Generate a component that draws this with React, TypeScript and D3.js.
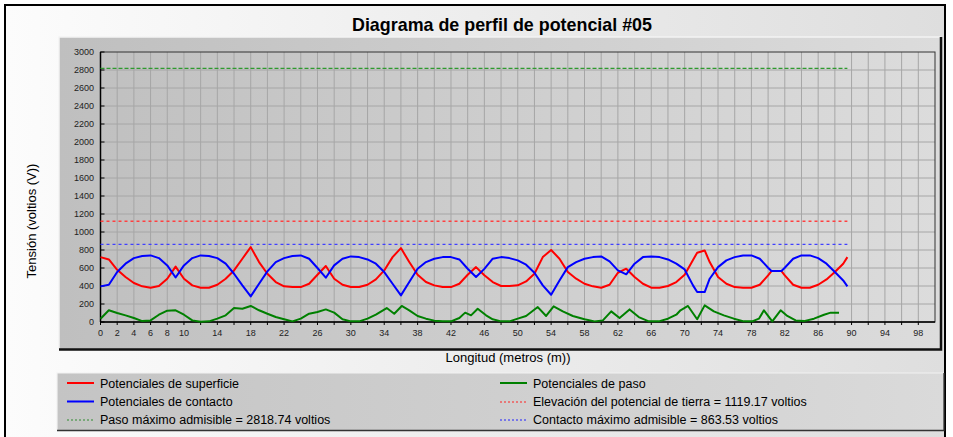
import { useEffect } from "react";
import * as d3 from "d3";

// distancia (m) para superficie / contacto
const distance = [
  0, 1, 2, 3, 4, 5, 6, 7, 8, 9, 10, 11, 12, 13, 14, 15, 16, 17, 18, 19, 20, 21, 22, 23,
  24, 25, 26, 27, 28, 29, 30, 31, 32, 33, 34, 35, 36, 37, 38, 39, 40, 41, 42, 43, 44, 45,
  46, 47, 48, 49, 50, 51, 52, 53, 54, 55, 56, 57, 58, 59, 60, 61, 62, 63, 64, 65, 66, 67, 68, 69, 70,
  71, 71.5, 72.4, 73, 74, 75, 76, 77, 78, 79, 80, 80.4, 81.6, 82, 83, 84, 85, 86, 87, 88, 89, 89.5,
];

const surface = [
  721, 695, 580, 500, 433, 396, 381, 400, 481, 615, 481, 407, 381, 381, 414, 481, 573, 703, 832, 666, 536, 444, 396, 388,
  388, 425, 525, 622, 481, 414, 388, 388, 414, 473, 573, 721, 821, 666, 525, 444, 407, 388, 388, 425, 525, 610,
  520, 444, 400, 400, 407, 451, 536, 721, 800, 703, 555, 481, 425, 396, 381, 414, 547, 592, 500, 425, 381, 381, 400, 444, 525,
  690, 770, 795, 666, 500, 425, 388, 381, 381, 414, 518, 566, 566, 518, 414, 381, 381, 414, 473, 555, 648, 721,
];

const contact = [
  396, 414, 555, 648, 710, 733, 740, 710, 629, 495, 629, 710, 740, 733, 710, 648, 536, 407, 285, 425, 562, 666, 710, 733,
  740, 703, 600, 492, 629, 703, 729, 721, 695, 648, 555, 425, 296, 444, 592, 666, 703, 721, 721, 695, 592, 500,
  590, 703, 721, 710, 685, 637, 547, 407, 303, 462, 610, 666, 703, 721, 729, 673, 573, 530, 648, 721, 729, 721, 695, 648, 584,
  407, 333, 333, 481, 610, 685, 721, 740, 740, 703, 603, 566, 566, 603, 703, 740, 740, 710, 648, 555, 462, 396,
];

// potenciales de paso
const stepDistance = [
  0, 1, 2, 3, 4, 5, 6, 7, 8, 9, 10, 11, 12, 13, 14, 15, 16, 17, 18, 19, 20, 21, 22, 23,
  24, 25, 26, 27, 28, 29, 30, 31, 32, 33, 34.3, 35.2, 36.1, 37, 38, 39, 40, 41, 42, 43, 43.7, 44.4, 45.2, 46.2,
  47, 48, 49, 50, 51, 52.4, 53.4, 54.3, 55.4, 56.6, 58, 59.2, 60.2, 61.2, 62.2, 63.4, 64.5, 65.7, 66.9, 68, 69, 69.5,
  70.4, 71.5, 72.4, 73.5, 74.7, 75.9, 77.1, 78.1, 78.9, 79.5, 80.5, 81.5, 82.3, 83.3, 84.3, 85.5, 86.7, 87.5, 88.5,
];
const step = [
  37, 130, 100, 74, 44, 10, 18, 81, 126, 130, 81, 18, 4, 7, 37, 74, 155, 148, 178, 130, 92, 55, 30, 7,
  37, 92, 111, 140, 104, 30, 7, 7, 37, 81, 155, 92, 178, 130, 67, 37, 15, 7, 7, 44, 104, 74, 148, 74,
  30, 7, 7, 37, 67, 166, 67, 174, 118, 67, 30, 7, 18, 118, 44, 140, 55, 7, 7, 37, 81, 130,
  178, 30, 185, 118, 74, 37, 7, 7, 37, 130, 7, 130, 67, 18, 10, 37, 81, 104, 104,
];

const groundRise = 1119.17;
const stepMax = 2818.74;
const contactMax = 863.53;
const limitEnd = 89.5;

const xTicks = [0, 2, 4, 6, 8, 10, 14, 18, 22, 26, 30, 34, 38, 42, 46, 50, 54, 58, 62, 66, 70, 74, 78, 82, 86, 90, 94, 98];
const yTicks = [0, 200, 400, 600, 800, 1000, 1200, 1400, 1600, 1800, 2000, 2200, 2400, 2600, 2800, 3000];

const legendItems = [
  { label: "Potenciales de superficie", color: "#ff0000", dash: null, col: 0, row: 0 },
  { label: "Potenciales de contacto", color: "#0000ff", dash: null, col: 0, row: 1 },
  { label: "Paso máximo admisible = 2818.74 voltios", color: "#2e8b2e", dash: "2,2", col: 0, row: 2 },
  { label: "Potenciales de paso", color: "#008000", dash: null, col: 1, row: 0 },
  { label: "Elevación del potencial de tierra = 1119.17 voltios", color: "#ff2020", dash: "2,2", col: 1, row: 1 },
  { label: "Contacto máximo admisible = 863.53 voltios", color: "#2020ff", dash: "2,2", col: 1, row: 2 },
];

const W = 953;
const H = 437;
const plot = { left: 100.5, right: 935, top: 52, bottom: 322 };
const font = "'Liberation Sans', Arial, sans-serif";

export default function App() {
  useEffect(() => {
    document.body.style.margin = "0";
  }, []);

  const x = d3.scaleLinear().domain([0, 100]).range([plot.left, plot.right]);
  const y = d3.scaleLinear().domain([0, 3000]).range([plot.bottom, plot.top]);

  const line = d3.line<[number, number]>().x(d => x(d[0])).y(d => y(d[1]));
  const surfPath = line(distance.map((d, i) => [d, surface[i]]) as [number, number][]);
  const contPath = line(distance.map((d, i) => [d, contact[i]]) as [number, number][]);
  const stepPath = line(stepDistance.map((d, i) => [d, step[i]]) as [number, number][]);

  const vGrid = d3.range(2, 100, 2);

  const limits = [
    { v: stepMax, color: "#2e9a2e", dash: "4,2" },
    { v: groundRise, color: "#ff4040", dash: "3,3" },
    { v: contactMax, color: "#4040ff", dash: "3,3" },
  ];

  return (
    <svg width={W} height={H} style={{ position: "fixed", left: 0, top: 0, display: "block" }} fontFamily={font}>
      <defs>
        <linearGradient id="bg" x1="0" x2="1" y1="0" y2="0">
          <stop offset="0" stopColor="#fcfcfc" />
          <stop offset="1" stopColor="#dedede" />
        </linearGradient>
        <linearGradient id="panel" x1="0" x2="1" y1="0" y2="0">
          <stop offset="0" stopColor="#bfbfbf" />
          <stop offset="1" stopColor="#dcdcdc" />
        </linearGradient>
        <linearGradient id="legend" x1="0" x2="1" y1="0" y2="0">
          <stop offset="0" stopColor="#c4c4c4" />
          <stop offset="1" stopColor="#dadada" />
        </linearGradient>
      </defs>

      <rect x={0} y={0} width={W} height={H} fill="#ffffff" />
      <rect x={5} y={5} width={940} height={440} fill="url(#bg)" stroke="#000" strokeWidth={2} />

      <text x={502} y={31} textAnchor="middle" fontSize={18.5} fontWeight="bold"
        textLength={300} lengthAdjust="spacingAndGlyphs"
        fontFamily="'Liberation Sans Narrow', 'Arial Narrow', 'Liberation Sans', sans-serif" fill="#000">
        Diagrama de perfil de potencial #05
      </text>

      {/* panel */}
      <rect x={59} y={37} width={882} height={312} fill="url(#panel)" />
      <path d="M59,349 L59,37 L941,37" fill="none" stroke="#f4f4f4" strokeWidth={1.5} />
      <path d="M59,349.5 L941,349.5 L941,37" fill="none" stroke="#111" strokeWidth={2.5} />

      {/* grid */}
      <g stroke="#a6a6a6" strokeWidth={1}>
        {vGrid.map(g => (
          <line key={"v" + g} x1={x(g)} x2={x(g)} y1={plot.top} y2={plot.bottom} />
        ))}
        {yTicks.slice(1, -1).map(t => (
          <line key={"h" + t} x1={plot.left} x2={plot.right} y1={y(t)} y2={y(t)} />
        ))}
      </g>
      <rect x={plot.left} y={plot.top} width={plot.right - plot.left} height={plot.bottom - plot.top}
        fill="none" stroke="#333" strokeWidth={1} />
      <line x1={plot.left} x2={plot.left} y1={plot.top} y2={plot.bottom} stroke="#000" strokeWidth={1.5} />
      <line x1={plot.left} x2={plot.right} y1={plot.bottom} y2={plot.bottom} stroke="#000" strokeWidth={1.5} />

      {/* ticks */}
      <g stroke="#000" strokeWidth={1}>
        {yTicks.map(t => (
          <line key={"yt" + t} x1={plot.left} x2={plot.left + 4} y1={y(t)} y2={y(t)} />
        ))}
        {d3.range(0, 100, 2).map(t => (
          <line key={"xt" + t} x1={x(t)} x2={x(t)} y1={plot.bottom} y2={plot.bottom + 3} />
        ))}
      </g>
      <g fontSize={9} fill="#222">
        {yTicks.map(t => (
          <text key={"yl" + t} x={94} y={y(t) + 3} textAnchor="end">{t}</text>
        ))}
        {xTicks.map(t => (
          <text key={"xl" + t} x={x(t)} y={336} textAnchor="middle">{t}</text>
        ))}
      </g>

      {/* limit lines */}
      {limits.map(l => (
        <line key={l.v} x1={x(0)} x2={x(limitEnd)} y1={y(l.v)} y2={y(l.v)}
          stroke={l.color} strokeWidth={1.3} strokeDasharray={l.dash} />
      ))}

      {/* series */}
      <path d={stepPath ?? ""} fill="none" stroke="#008000" strokeWidth={2} strokeLinejoin="round" />
      <path d={surfPath ?? ""} fill="none" stroke="#ff0000" strokeWidth={2} strokeLinejoin="round" />
      <path d={contPath ?? ""} fill="none" stroke="#0000ff" strokeWidth={2} strokeLinejoin="round" />

      {/* axis titles */}
      <text x={508} y={362} textAnchor="middle" fontSize={13} fill="#000">Longitud (metros (m))</text>
      <text transform="translate(36,221) rotate(-90)" textAnchor="middle" fontSize={13} fill="#000">
        Tensión (voltios (V))
      </text>

      {/* legend */}
      <rect x={57} y={373} width={887} height={57} fill="url(#legend)" />
      <path d="M57,430 L57,373 L944,373" fill="none" stroke="#f2f2f2" strokeWidth={1.2} />
      <path d="M57,430.5 L944,430.5 L944,373" fill="none" stroke="#333" strokeWidth={1.3} />
      {legendItems.map(it => {
        const lx = it.col === 0 ? 67 : 500;
        const ly = [383, 401.5, 419.5][it.row];
        return (
          <g key={it.label}>
            <line x1={lx} x2={lx + 27} y1={it.dash ? ly + 0.5 : ly} y2={it.dash ? ly + 0.5 : ly} stroke={it.color}
              strokeWidth={it.dash ? 1 : 2} strokeDasharray={it.dash ?? undefined} />
            <text x={lx + 33} y={ly + 4.5} fontSize={12.5} fill="#000">{it.label}</text>
          </g>
        );
      })}
    </svg>
  );
}
